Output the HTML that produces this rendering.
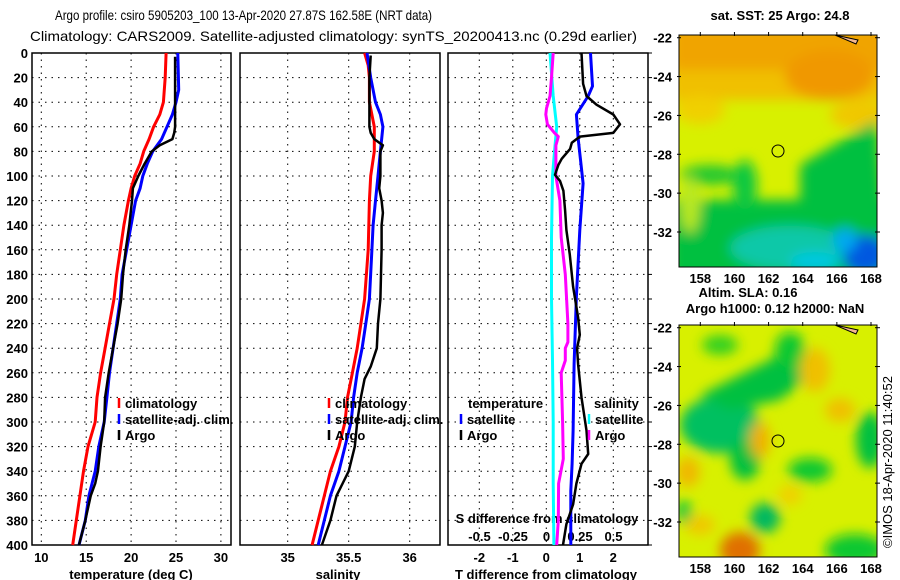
<!DOCTYPE html>
<html><head><meta charset="utf-8"><style>
html,body{margin:0;padding:0;background:#fff;}
svg{display:block;font-family:"Liberation Sans",sans-serif;}
.t{font-size:13px;font-weight:bold;fill:#000;}
</style></head><body>
<svg id="chart" width="900" height="580" viewBox="0 0 900 580" xmlns="http://www.w3.org/2000/svg">
<defs>
<filter id="blur1" x="-20%" y="-20%" width="140%" height="140%"><feGaussianBlur stdDeviation="6"/></filter>
<clipPath id="clipM1"><rect x="679" y="35" width="198" height="232"/></clipPath>
<clipPath id="clipM2"><rect x="679" y="325" width="198" height="232"/></clipPath>
</defs>
<text x="55" y="20" font-size="14" textLength="377" lengthAdjust="spacingAndGlyphs">Argo profile: csiro 5905203_100 13-Apr-2020 27.87S 162.58E (NRT data)</text>
<text x="30" y="41" font-size="14" textLength="607" lengthAdjust="spacingAndGlyphs">Climatology: CARS2009. Satellite-adjusted climatology: synTS_20200413.nc (0.29d earlier)</text>
<g id="panels"></g>
<g id="maps">
  <g clip-path="url(#clipM1)">
    <rect x="679" y="35" width="198" height="232" fill="#d8f000"/>
    <g filter="url(#blur1)">
      <rect x="670" y="25" width="220" height="50" fill="#f0a400"/>
      <rect x="670" y="70" width="220" height="30" fill="#f0c000"/>
      <ellipse cx="830" cy="75" rx="45" ry="25" fill="#f09800"/>
      <ellipse cx="860" cy="115" rx="30" ry="14" fill="#f0c800"/>
      <ellipse cx="700" cy="110" rx="25" ry="14" fill="#f0d000"/>
      <path d="M800,165 L877,120 L890,280 L800,280 Z" fill="#00c040"/>
      <rect x="670" y="200" width="220" height="80" fill="#00c040"/>
      <ellipse cx="710" cy="175" rx="30" ry="10" fill="#20c830"/>
      <ellipse cx="745" cy="185" rx="12" ry="25" fill="#10c840"/>
      <ellipse cx="690" cy="205" rx="10" ry="28" fill="#b8e820"/>
      <ellipse cx="790" cy="248" rx="60" ry="22" fill="#10c8a8"/>
      <ellipse cx="815" cy="262" rx="25" ry="10" fill="#00c8e0"/>
      <ellipse cx="865" cy="255" rx="22" ry="20" fill="#0058e0"/>
      <ellipse cx="845" cy="240" rx="12" ry="12" fill="#00a8f0"/>
    </g>
    <path d="M835,35 L858,40 L856,44 Z" fill="#f4b890" stroke="#000"/>
  </g>
  <rect x="679" y="35" width="198" height="232" fill="none" stroke="#000"/>
  <circle cx="778" cy="151" r="6" fill="none" stroke="#000"/>
  <g clip-path="url(#clipM2)">
    <rect x="679" y="325" width="198" height="232" fill="#d8f000"/>
    <g filter="url(#blur1)">
      <ellipse cx="720" cy="425" rx="40" ry="28" fill="#00c060"/>
      <ellipse cx="745" cy="460" rx="15" ry="20" fill="#00c040"/>
      <path d="M700,395 L770,360 L800,340 L805,380 L780,400 L730,410 Z" fill="#00c040"/>
      <ellipse cx="790" cy="350" rx="15" ry="18" fill="#10c830"/>
      <ellipse cx="720" cy="345" rx="18" ry="10" fill="#30d020"/>
      <ellipse cx="810" cy="470" rx="22" ry="12" fill="#10c830"/>
      <ellipse cx="870" cy="440" rx="14" ry="28" fill="#00c040"/>
      <ellipse cx="765" cy="518" rx="15" ry="15" fill="#00b860"/>
      <ellipse cx="855" cy="550" rx="30" ry="16" fill="#10c830"/>
      <ellipse cx="684" cy="512" rx="8" ry="12" fill="#10c840"/>
      <ellipse cx="815" cy="370" rx="15" ry="22" fill="#f0c000"/>
      <ellipse cx="840" cy="410" rx="15" ry="12" fill="#f0c000"/>
      <ellipse cx="760" cy="440" rx="10" ry="18" fill="#f0b000"/>
      <ellipse cx="688" cy="472" rx="12" ry="15" fill="#f0b800"/>
      <ellipse cx="740" cy="550" rx="20" ry="18" fill="#e07000"/>
      <ellipse cx="700" cy="525" rx="15" ry="10" fill="#f0c800"/>
      <ellipse cx="790" cy="495" rx="12" ry="10" fill="#f0d000"/>
    </g>
    <path d="M835,325 L858,330 L856,334 Z" fill="#f4b890" stroke="#000"/>
  </g>
  <rect x="679" y="325" width="198" height="232" fill="none" stroke="#000"/>
  <circle cx="778" cy="441" r="6" fill="none" stroke="#000"/>
  <text class="t" x="780" y="20" text-anchor="middle">sat. SST: 25 Argo: 24.8</text>
  <text class="t" x="748" y="297" text-anchor="middle">Altim. SLA: 0.16</text>
  <text class="t" x="775" y="313" text-anchor="middle">Argo h1000: 0.12 h2000: NaN</text>
  <text font-size="13" transform="translate(892,548) rotate(-90)">©IMOS 18-Apr-2020 11:40:52</text>
</g>
</svg>
<script>
// ---- profile data (depth in m) ----
const tClimDepth = [0,20,40,50,60,70,80,90,100,110,120,140,160,180,200,220,240,260,280,300,320,340,360,380,400];
const tClimVal   = [23.9,23.8,23.6,23.2,22.5,22.0,21.4,21.0,20.4,20.0,19.7,19.2,18.8,18.4,18.1,17.6,17.1,16.6,16.2,16.0,15.2,14.7,14.3,13.9,13.5];
const tSatDepth  = [0,30,40,50,60,70,80,90,100,110,120,140,160,180,200,220,240,260,280,300,320,340,360,380,400];
const tSatVal    = [25.2,25.3,25.0,24.6,24.0,23.4,22.4,21.8,21.3,21.0,20.5,20.0,19.5,19.0,18.8,18.4,18.0,17.6,17.3,17.0,16.4,16.0,15.3,14.9,14.2];
const tArgoDepth = [3,60,65,70,75,80,90,100,110,120,140,160,180,200,220,240,260,280,300,320,340,350,360,380,400];
const tArgoVal   = [24.9,24.9,24.8,24.6,23.2,22.3,21.5,20.8,20.2,20.1,19.8,19.4,19.1,18.9,18.5,18.0,17.5,17.1,17.0,16.6,16.3,16.0,15.5,14.9,14.2];

const sClimDepth = [0,10,20,40,60,80,100,120,160,200,220,240,260,280,300,320,340,360,380,400];
const sClimVal   = [35.63,35.66,35.67,35.67,35.71,35.71,35.68,35.67,35.66,35.63,35.60,35.57,35.53,35.49,35.47,35.42,35.35,35.30,35.25,35.20];
const sSatDepth  = [0,20,30,40,50,60,80,90,100,120,140,160,200,220,240,260,280,300,320,340,360,380,400];
const sSatVal    = [35.65,35.68,35.70,35.72,35.76,35.78,35.76,35.75,35.74,35.72,35.70,35.69,35.67,35.64,35.61,35.57,35.54,35.52,35.47,35.42,35.35,35.30,35.25];
const sArgoDepth = [2,20,60,65,70,75,80,90,100,110,120,130,140,160,200,220,240,255,265,280,300,320,340,350,360,380,400];
const sArgoVal   = [35.68,35.67,35.67,35.68,35.71,35.78,35.76,35.76,35.76,35.75,35.77,35.78,35.77,35.77,35.76,35.74,35.73,35.68,35.63,35.60,35.57,35.55,35.50,35.45,35.40,35.35,35.28];

const dTSatDepth  = [0,27,35,50,69,106,144,198,253,307,334,356,400];
const dTSatVal    = [1.32,1.38,1.25,0.9,0.95,1.1,1.0,0.9,0.83,0.8,0.77,0.73,0.73];
const dTArgoDepth = [0,25,35,42,50,58,65,68,73,78,86,91,99,104,112,128,144,164,190,215,229,240,253,280,307,326,334,350,367,383,400];
const dTArgoVal   = [1.05,1.1,1.2,1.5,2.0,2.2,2.0,1.0,0.76,0.71,0.46,0.36,0.26,0.41,0.51,0.56,0.6,0.7,0.8,0.95,1.0,0.92,0.95,1.05,1.2,1.25,1.05,0.9,0.8,0.6,0.5];
const dSSatDepth  = [0,35,60,80,100,150,200,250,300,350,400];
const dSSatVal    = [0.026,0.05,0.076,0.06,0.045,0.037,0.037,0.045,0.05,0.05,0.055];
const dSArgoDepth = [0,20,35,45,50,58,65,68,75,100,120,150,180,220,235,240,250,260,300,330,350,380,400];
const dSArgoVal   = [0.05,0.037,0.026,0.0,-0.005,0.007,0.06,0.088,0.07,0.07,0.1,0.11,0.14,0.16,0.16,0.14,0.14,0.11,0.12,0.125,0.09,0.088,0.076];

const depthTicks = [0,20,40,60,80,100,120,140,160,180,200,220,240,260,280,300,320,340,360,380,400];
const tTicks = [10,15,20,25,30];
const sTicks = [35,35.5,36];
const dTTicks = [-2,-1,0,1,2];
const dSTicks = [-0.5,-0.25,0,0.25,0.5];
const latTicks = [-22,-24,-26,-28,-30,-32];
const lonTicks = [158,160,162,164,166,168];

const NS = 'http://www.w3.org/2000/svg';
const root = document.getElementById('panels');
function mk(tag, attrs, parent) {
  const e = document.createElementNS(NS, tag);
  for (const k in attrs) e.setAttribute(k, attrs[k]);
  (parent || root).appendChild(e);
  return e;
}
const TOP = 53, BOT = 545;
const yD = d => TOP + (BOT - TOP) * d / 400;
const xT = v => 41.3 + 8.98 * (v - 10);
const xS = v => 287.7 + 122 * (v - 35);
const xDT = v => 546.3 + 33.5 * v;
const xDS = v => 546.5 + 134 * v;

function panel(x0, x1, name, xTicksArr, xf) {
  const g = mk('g', {});
  
  
  depthTicks.forEach(d => {
    const l = mk('line', {x1: x0, x2: x1, y1: yD(d), y2: yD(d), stroke: '#000', 'stroke-dasharray': '1.5,5'}, g);
    
    
  });
  xTicksArr.forEach(v => {
    const l = mk('line', {x1: xf(v), x2: xf(v), y1: TOP, y2: BOT, stroke: '#000', 'stroke-dasharray': '1.5,5'}, g);
    
    
  });
  const r = mk('rect', {x: x0, y: TOP, width: x1 - x0, height: BOT - TOP, fill: 'none', stroke: '#000', 'stroke-width': 1.5}, g);
  
  
  return g;
}
function line(depths, vals, xf, color, name, w) {
  const pts = depths.map((d, i) => xf(vals[i]).toFixed(1) + ',' + yD(d).toFixed(1)).join(' ');
  const p = mk('polyline', {points: pts, fill: 'none', stroke: color, 'stroke-width': w || 3, 'stroke-linejoin': 'round'});
  
  
}
function txt(x, y, s, anchor, name) {
  const t = mk('text', {x: x, y: y, 'text-anchor': anchor || 'start', class: 't'});
  t.textContent = s;
  
  
  return t;
}

panel(32, 231, 'temperature-panel', tTicks, xT);
panel(240, 440, 'salinity-panel', sTicks, xS);
panel(448, 648, 'difference-panel', dTTicks, xDT);

depthTicks.forEach(d => { txt(28, yD(d) + 5, String(d), 'end', 'depth-tick-label'); });
depthTicks.forEach(d => {
  const l = mk('line', {x1: 648, x2: 652, y1: yD(d), y2: yD(d), stroke: '#000'});
  
  
});
tTicks.forEach(v => txt(xT(v), 562, String(v), 'middle', 'temperature-tick-label'));
sTicks.forEach(v => txt(xS(v), 562, String(v), 'middle', 'salinity-tick-label'));
dTTicks.forEach(v => txt(xDT(v), 562, String(v), 'middle', 'temp-diff-tick-label'));
dSTicks.forEach(v => txt(xDS(v), 541, String(v), 'middle', 'sal-diff-tick-label'));
txt(131, 579, 'temperature (deg C)', 'middle', 'temperature-axis-title');
txt(338, 579, 'salinity', 'middle', 'salinity-axis-title');
txt(546, 579, 'T difference from climatology', 'middle', 'temp-diff-axis-title');
txt(547, 523, 'S difference from climatology', 'middle', 'sal-diff-axis-title');

line(tClimDepth, tClimVal, xT, '#ff0000', 'temperature-climatology-line');
line(tSatDepth, tSatVal, xT, '#0000ff', 'temperature-satellite-line');
line(tArgoDepth, tArgoVal, xT, '#000000', 'temperature-argo-line', 2.5);
line(sClimDepth, sClimVal, xS, '#ff0000', 'salinity-climatology-line');
line(sSatDepth, sSatVal, xS, '#0000ff', 'salinity-satellite-line');
line(sArgoDepth, sArgoVal, xS, '#000000', 'salinity-argo-line', 2.5);
line(dSSatDepth, dSSatVal, xDS, '#00ffff', 'sal-diff-satellite-line');
line(dSArgoDepth, dSArgoVal, xDS, '#ff00ff', 'sal-diff-argo-line');
line(dTSatDepth, dTSatVal, xDT, '#0000ff', 'temp-diff-satellite-line');
line(dTArgoDepth, dTArgoVal, xDT, '#000000', 'temp-diff-argo-line', 2.5);

function legMark(x, y, c) {
  const l = mk('line', {x1: x, x2: x, y1: y - 11, y2: y - 1, stroke: c, 'stroke-width': 2.5});
  
  
}
[119, 329].forEach(x => {
  legMark(x, 409, '#ff0000'); txt(x + 6, 408, 'climatology', 'start', 'legend-entry-climatology');
  legMark(x, 425, '#0000ff'); txt(x + 6, 424, 'satellite-adj. clim.', 'start', 'legend-entry-satellite');
  legMark(x, 441, '#000000'); txt(x + 6, 440, 'Argo', 'start', 'legend-entry-argo');
});
txt(468, 408, 'temperature', 'start', 'legend-header-temperature');
legMark(461, 425, '#0000ff'); txt(467, 424, 'satellite', 'start', 'legend-entry-temp-satellite');
legMark(461, 441, '#000000'); txt(467, 440, 'Argo', 'start', 'legend-entry-temp-argo');
txt(594, 408, 'salinity', 'start', 'legend-header-salinity');
legMark(589, 425, '#00ffff'); txt(595, 424, 'satellite', 'start', 'legend-entry-sal-satellite');
legMark(589, 441, '#ff00ff'); txt(595, 440, 'Argo', 'start', 'legend-entry-sal-argo');

// map axes
const mapsG = document.getElementById('maps');
[[35, 283], [325, 573]].forEach(([top, lonY]) => {
  const yLat = v => top + 2.7 + 19.43 * (-22 - v);
  const xLon = v => 700.3 + 17.07 * (v - 158);
  latTicks.forEach(v => {
    const t = mk('text', {x: 672, y: yLat(v) + 5, 'text-anchor': 'end', class: 't'}, mapsG);
    t.textContent = String(v);
    
    
    const a = mk('line', {x1: 677, x2: 681, y1: yLat(v), y2: yLat(v), stroke: '#000'}, mapsG);
    
    
    const b = mk('line', {x1: 875, x2: 880, y1: yLat(v), y2: yLat(v), stroke: '#000'}, mapsG);
    
    
  });
  lonTicks.forEach(v => {
    const t = mk('text', {x: xLon(v), y: lonY, 'text-anchor': 'middle', class: 't'}, mapsG);
    t.textContent = String(v);
    
    
    const a = mk('line', {x1: xLon(v), x2: xLon(v), y1: top - 3, y2: top + 1, stroke: '#000'}, mapsG);
    
    
  });
});
</script>
</body></html>
